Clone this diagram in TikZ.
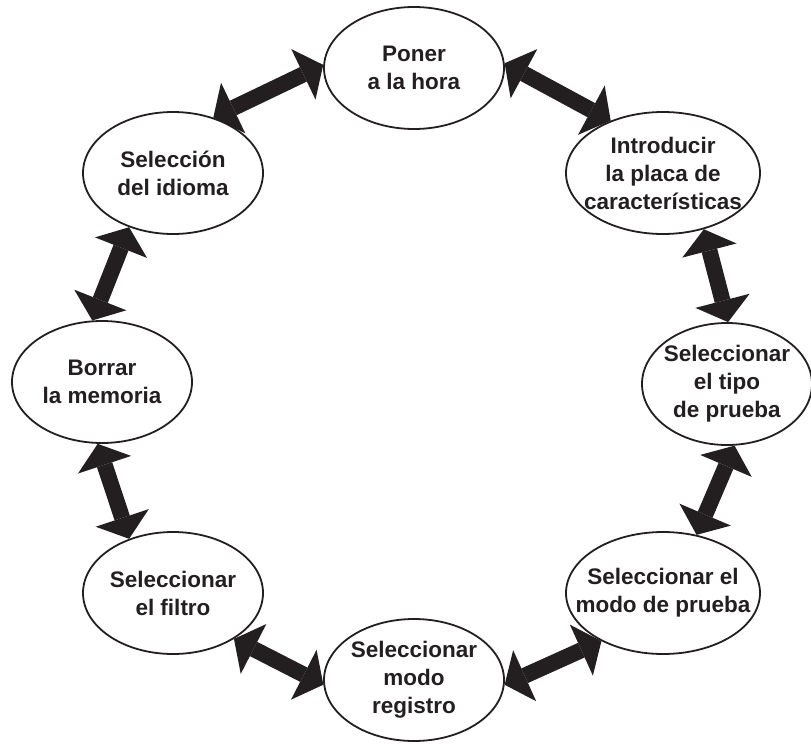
\documentclass[tikz,border=0pt]{standalone}
\usepackage{fontspec}
\setmainfont{Liberation Sans}
\usetikzlibrary{shapes.geometric, arrows.meta}
\definecolor{ink}{HTML}{231F20}
\tikzset{
  stage/.style={ellipse, draw=ink, line width=1.8pt, text=ink,
    minimum width=180pt, minimum height=122pt, inner sep=-150pt,
    align=center, font=\fontsize{22.5}{28}\selectfont\bfseries},
  link/.style={draw=ink, line width=16pt,
    {Triangle[width=56pt, length=22pt, line width=0pt]}-{Triangle[width=56pt, length=22pt, line width=0pt]}}
}
\begin{document}
\begin{tikzpicture}[x=1pt, y=-1pt]
  \useasboundingbox (0,0) rectangle (811,744);

  % Elipses del ciclo
  \node[stage] (hora) at (414,68) {Poner\\a la hora};
  \node[stage, minimum width=194pt] (placa) at (663,173) {Introducir\\la placa de\\características};
  \node[stage, minimum width=170pt] (tipo) at (727,384) {Seleccionar\\el tipo\\de prueba};
  \node[stage, minimum width=194pt] (modo) at (663,593) {Seleccionar el\\modo de prueba};
  \node[stage] (registro) at (414,680) {Seleccionar\\modo\\registro};
  \node[stage] (filtro) at (173,593) {Seleccionar\\el filtro};
  \node[stage] (memoria) at (102,382) {Borrar\\la memoria};
  \node[stage] (idioma) at (173,173) {Selección\\del idioma};

  % Flechas dobles
  \draw[link] (hora.178) -- (idioma.54);
  \draw[link] (hora.3) -- (placa.135);
  \draw[link] (placa.306) -- (tipo.89);
  \draw[link] (tipo.277) -- (modo.60);
  \draw[link] (modo.218) -- (registro.357);
  \draw[link] (registro.183) -- (filtro.323);
  \draw[link] (memoria.266) -- (filtro.129);
  \draw[link] (idioma.231) -- (memoria.99);
\end{tikzpicture}
\end{document}
